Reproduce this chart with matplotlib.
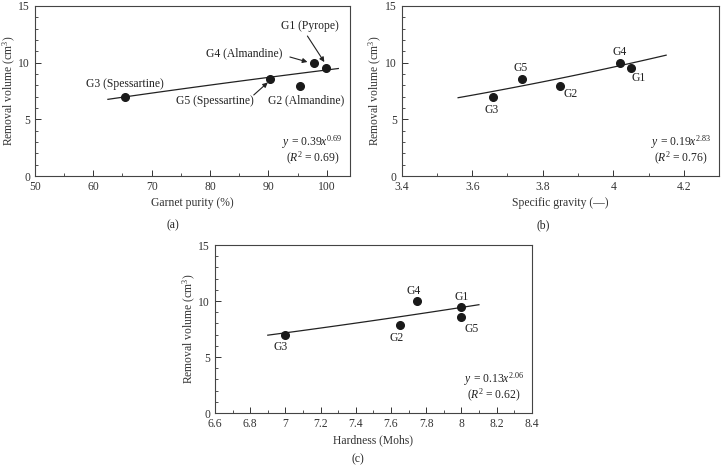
import numpy as np
import matplotlib
matplotlib.use("Agg")
import matplotlib.pyplot as plt
from matplotlib.ticker import MultipleLocator

plt.rcParams['font.family'] = ['Liberation Serif', 'DejaVu Serif']
plt.rcParams['mathtext.fontset'] = 'custom'
plt.rcParams['mathtext.rm'] = 'Liberation Serif'
plt.rcParams['mathtext.it'] = 'Liberation Serif:italic'

# Data
samples = ["G1", "G2", "G3", "G4", "G5"]
removal_volume = [9.5, 7.9, 7.0, 10.0, 8.6]
garnet_purity = [99.8, 95.4, 65.5, 97.8, 90.3]
specific_gravity = [4.05, 3.85, 3.66, 4.02, 3.74]
hardness = [8.0, 7.65, 7.0, 7.75, 8.0]

# Power-law fits as printed on the chart: y = a * x^b
fit_a = [0.39, 0.19, 0.13]
fit_b = [0.69, 2.83, 2.06]
fit_r2 = [0.69, 0.76, 0.62]
fit_range = [(62.5, 102.0), (3.56, 4.15), (6.9, 8.1)]

FS = 8.4
TC = '#222222'
fig = plt.figure(figsize=(7.23, 4.65), dpi=100)

axa = fig.add_axes([0.0484, 0.6215, 0.4357, 0.3656])
axb = fig.add_axes([0.5556, 0.6215, 0.4389, 0.3656])
axc = fig.add_axes([0.2974, 0.1118, 0.4380, 0.3613])


def style(ax, xlim, xmaj, xmin, xlabel, fmt=None):
    ax.set_xlim(*xlim)
    ax.set_ylim(0, 15)
    ax.xaxis.set_major_locator(MultipleLocator(xmaj))
    ax.xaxis.set_minor_locator(MultipleLocator(xmin))
    ax.yaxis.set_major_locator(MultipleLocator(5))
    ax.yaxis.set_minor_locator(MultipleLocator(1))
    ax.tick_params(which='both', direction='in', labelsize=FS, colors='#333333',
                   top=False, right=False)
    ax.tick_params(which='major', length=4, width=0.7)
    ax.tick_params(which='minor', length=2.5, width=0.6)
    for s in ax.spines.values():
        s.set_color('#444444')
        s.set_linewidth(0.8)
    ax.set_xlabel(xlabel, fontsize=FS, color='#333333', labelpad=3)
    ax.set_ylabel('Removal volume (cm$^3$)', fontsize=FS, color='#333333', labelpad=0.5)
    if fmt:
        ax.xaxis.set_major_formatter(fmt)


def fit_line(ax, i):
    xs = np.linspace(fit_range[i][0], fit_range[i][1], 50)
    ax.plot(xs, fit_a[i] * xs ** fit_b[i], color='#222222', lw=0.9)


def eq_text(ax, i, xr, y1, y2):
    ax.text(xr, y1, r'$\it{y}$ = %.2f$\it{x}$$^{%.2f}$' % (fit_a[i], fit_b[i]),
            transform=ax.transAxes, ha='right', va='center', fontsize=FS, color=TC)
    ax.text(xr - 0.01, y2, r'($\it{R}$$^2$ = %.2f)' % fit_r2[i],
            transform=ax.transAxes, ha='right', va='center', fontsize=FS, color=TC)


def fmt_num(v, pos):
    s = ('%.1f' % v)
    if s.endswith('.0'):
        s = s[:-2]
    return s

# Panel (a)
style(axa, (50, 104), 10, 5, 'Garnet purity (%)')
fit_line(axa, 0)
axa.plot(garnet_purity, removal_volume, 'o', color='#1a1a1a', ms=5.5, zorder=3)
arrow = dict(arrowstyle='-|>', color='#222222', lw=0.8, mutation_scale=7,
             shrinkA=0, shrinkB=0)
axa.annotate('', xy=(99.6, 10.05), xytext=(96.7, 12.35), arrowprops=arrow)
axa.text(97.1, 13.25, 'G1 (Pyrope)', ha='center', va='center', fontsize=FS, color=TC)
axa.annotate('', xy=(96.7, 10.06), xytext=(93.7, 10.5), arrowprops=arrow)
axa.text(85.8, 10.8, 'G4 (Almandine)', ha='center', va='center', fontsize=FS, color=TC)
axa.annotate('', xy=(89.9, 8.25), xytext=(87.5, 7.15), arrowprops=arrow)
axa.text(80.8, 6.6, 'G5 (Spessartine)', ha='center', va='center', fontsize=FS, color=TC)
axa.text(65.4, 8.15, 'G3 (Spessartine)', ha='center', va='center', fontsize=FS, color=TC)
axa.text(96.4, 6.65, 'G2 (Almandine)', ha='center', va='center', fontsize=FS, color=TC)
eq_text(axa, 0, 0.975, 0.2, 0.105)

# Panel (b)
style(axb, (3.4, 4.3), 0.2, 0.1, 'Specific gravity (\u2014)', plt.FuncFormatter(fmt_num))
fit_line(axb, 1)
axb.plot(specific_gravity, removal_volume, 'o', color='#1a1a1a', ms=5.5, zorder=3)
b_lab = {"G1": (4.073, 8.65), "G2": (3.88, 7.25), "G3": (3.655, 5.85),
         "G4": (4.017, 10.95), "G5": (3.737, 9.5)}
for k, (x, y) in b_lab.items():
    axb.text(x, y, k, ha='center', va='center', fontsize=FS, color=TC)
eq_text(axb, 1, 0.975, 0.2, 0.105)

# Panel (c)
style(axc, (6.6, 8.4), 0.2, 0.1, 'Hardness (Mohs)', plt.FuncFormatter(fmt_num))
fit_line(axc, 2)
axc.plot(hardness, removal_volume, 'o', color='#1a1a1a', ms=5.5, zorder=3)
c_lab = {"G1": (8.004, 10.35), "G2": (7.634, 6.7), "G3": (6.975, 5.9),
         "G4": (7.73, 10.9), "G5": (8.06, 7.5)}
for k, (x, y) in c_lab.items():
    axc.text(x, y, k, ha='center', va='center', fontsize=FS, color=TC)
eq_text(axc, 2, 0.975, 0.2, 0.102)

# Captions
fig.text(173 / 723, 1 - 225 / 465, '(a)', ha='center', va='center', fontsize=FS, color=TC)
fig.text(543 / 723, 1 - 225 / 465, '(b)', ha='center', va='center', fontsize=FS, color=TC)
fig.text(358 / 723, 1 - 459 / 465, '(c)', ha='center', va='center', fontsize=FS, color=TC)

fig.savefig('out.png', dpi=100)
